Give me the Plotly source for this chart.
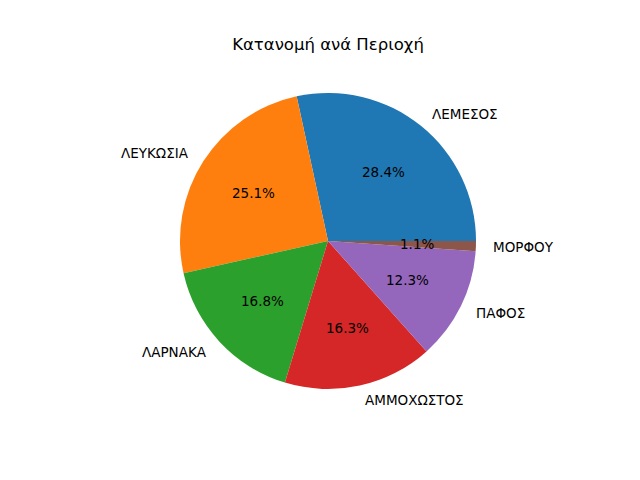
import math
import plotly.graph_objects as go

# dati: quote per regione
regions = ["ΛΕΜΕΣΟΣ", "ΛΕΥΚΩΣΙΑ", "ΛΑΡΝΑΚΑ", "ΑΜΜΟΧΩΣΤΟΣ", "ΠΑΦΟΣ", "ΜΟΡΦΟΥ"]
shares = [28.4, 25.1, 16.8, 16.3, 12.3, 1.1]
colors = ["#1f77b4", "#ff7f0e", "#2ca02c", "#d62728", "#9467bd", "#8c564b"]
title = "Κατανομή ανά Περιοχή"

W, H = 640, 480
OFF = 8  # margine del body della pagina
cx, cy, r = 328, 241, 148  # centro e raggio in pixel (schermo)


def px(x):
    return (x - OFF) / W


def py(y):
    return 1 - (y - OFF) / H


total = sum(shares)
# in senso antiorario plotly chiude la prima fetta sull'angolo di rotazione
rot = 90 - 360 * shares[0] / total

fig = go.Figure(go.Pie(
    labels=regions, values=shares, sort=False,
    direction="counterclockwise", rotation=rot,
    marker=dict(colors=colors, line=dict(width=0)),
    textinfo="none", hoverinfo="label+percent", showlegend=False,
    domain=dict(x=[px(cx - r), px(cx + r)], y=[py(cy + r), py(cy - r)]),
))

# etichette alla maniera di matplotlib: nomi a 1.1 r, percentuali a 0.6 r
cum = 0
font = dict(family="DejaVu Sans", size=13.5, color="black")
for name, v in zip(regions, shares):
    theta = 2 * math.pi * (cum + v / 2) / total
    cum += v
    c, s = math.cos(theta), math.sin(theta)
    fig.add_annotation(x=px(cx + 1.1 * r * c), y=py(cy - 1.1 * r * s),
                       xref="paper", yref="paper", text=name, showarrow=False,
                       xanchor="left" if c > 0 else "right", yanchor="middle", font=font)
    fig.add_annotation(x=px(cx + 0.6 * r * c), y=py(cy - 0.6 * r * s),
                       xref="paper", yref="paper", text=f"{100 * v / total:.1f}%",
                       showarrow=False, xanchor="center", yanchor="middle", font=font)

fig.update_layout(
    width=W, height=H, margin=dict(l=0, r=0, t=0, b=0),
    paper_bgcolor="white", plot_bgcolor="white",
    title=dict(text=title, x=px(328), xanchor="center", y=py(44), yanchor="middle",
               font=dict(family="DejaVu Sans", size=16.5, color="black")),
)
fig.write_html("out.html")
